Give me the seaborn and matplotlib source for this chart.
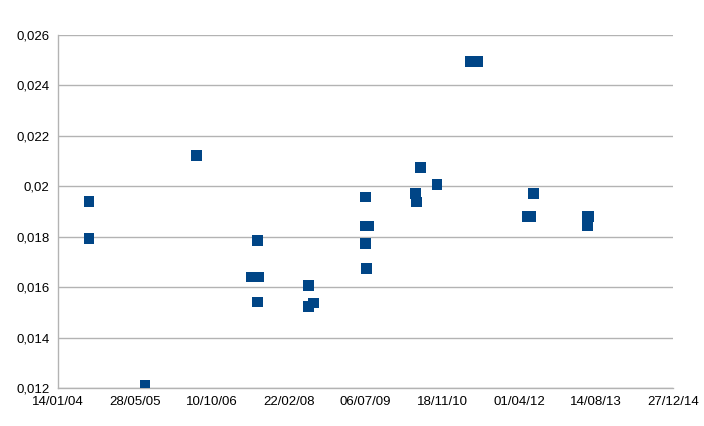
import matplotlib
matplotlib.use("Agg")
import matplotlib.pyplot as plt
import matplotlib.dates as mdates
from matplotlib.ticker import FixedLocator, FuncFormatter
import seaborn as sns
import pandas as pd
import numpy as np

dates = ["2004-08-03", "2004-08-03", "2005-08-03", "2006-07-01",
         "2007-06-24", "2007-08-09", "2007-08-02", "2007-08-02",
         "2008-07-02", "2008-07-02", "2008-07-31",
         "2009-07-06", "2009-07-06", "2009-07-24", "2009-07-06", "2009-07-12",
         "2010-05-28", "2010-06-03", "2010-06-29", "2010-10-14",
         "2011-05-21", "2011-07-06",
         "2012-05-25", "2012-06-14", "2012-07-03",
         "2013-06-20", "2013-06-26", "2013-06-20"]
values = [0.0194, 0.01792, 0.01212, 0.02121,
          0.01641, 0.01641, 0.01786, 0.01541,
          0.01607, 0.01524, 0.01537,
          0.01957, 0.01842, 0.01842, 0.01773, 0.01675,
          0.01971, 0.01937, 0.02074, 0.02006,
          0.02496, 0.02496,
          0.0188, 0.0188, 0.01971,
          0.0188, 0.0188, 0.01845]

tick_start = "2004-01-14"
tick_step_days = 500
n_ticks = 9
y_ticks = [0.012, 0.014, 0.016, 0.018, 0.020, 0.022, 0.024, 0.026]

df = pd.DataFrame({"date": pd.to_datetime(dates), "value": values})

sns.set_style("white")
plt.rcParams['font.family'] = ['Liberation Sans', 'DejaVu Sans']

fig = plt.figure(figsize=(7.04, 4.26), dpi=100)
ax = fig.add_axes([58/704, 38/426, (673-58)/704, (388-35)/426])

sns.scatterplot(data=df, x="date", y="value", ax=ax, marker="s", s=58,
                color="#004586", edgecolor="none", linewidth=0, zorder=3)

xt = [pd.Timestamp(tick_start) + pd.Timedelta(days=tick_step_days * i) for i in range(n_ticks)]
xt_num = mdates.date2num(xt)
ax.set_xlim(xt_num[0], xt_num[-1])
ax.xaxis.set_major_locator(FixedLocator(xt_num))
ax.xaxis.set_major_formatter(FuncFormatter(lambda v, p: mdates.num2date(v).strftime("%d/%m/%y")))

ax.set_ylim(y_ticks[0], y_ticks[-1])
ax.set_yticks(y_ticks)
ax.yaxis.set_major_formatter(FuncFormatter(lambda v, p: f"{v:.3f}".rstrip('0').replace('.', ',')))

ax.grid(axis="y", color="#b3b3b3", linewidth=1)
ax.grid(axis="x", visible=False)
ax.set_axisbelow(True)
for s in ["top", "right"]:
    ax.spines[s].set_visible(False)
for s in ["left", "bottom"]:
    ax.spines[s].set_color("#b3b3b3")
    ax.spines[s].set_linewidth(1)
ax.tick_params(axis="both", which="major", length=4, width=1, color="#b3b3b3",
               labelsize=9.5, labelcolor="#000000", direction="out", pad=2)
ax.set_xlabel("")
ax.set_ylabel("")

fig.savefig("out.png", dpi=100)
